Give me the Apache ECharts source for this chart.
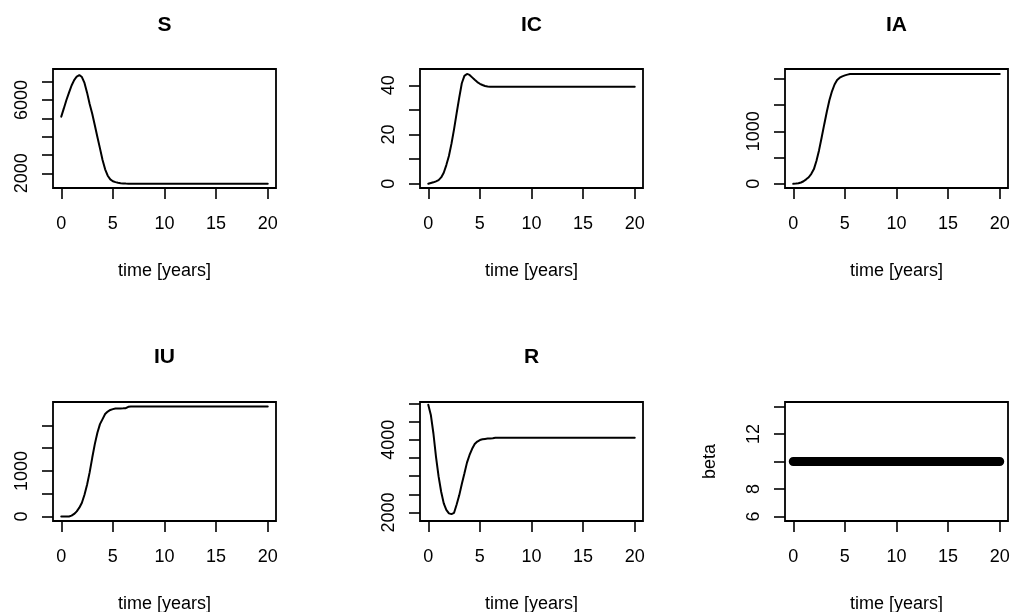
<!DOCTYPE html>
<html>
<head>
<meta charset="utf-8">
<script src="https://cdn.jsdelivr.net/npm/echarts@6/dist/echarts.min.js"></script>
<style>
    html, body { margin: 0; padding: 0; background: #fff; }
    #chart { width: 1010px; height: 612px; }
</style>
</head>
<body>
<div id="chart"></div>
<script>
    // time axis shared by every panel (flat tail runs out to 20)
    const years = [0, 0.25, 0.5, 0.75, 1, 1.25, 1.5, 1.75, 2, 2.25, 2.5, 2.75, 3, 3.25, 3.5,
        3.75, 4, 4.25, 4.5, 4.75, 5, 5.25, 5.5, 5.75, 6, 6.25, 6.5, 6.75, 7, 20];

    const S = [5090, 5540, 6000, 6400, 6790, 7080, 7280, 7360, 7250, 6930, 6400, 5780, 5250, 4620, 3980,
        3360, 2730, 2220, 1870, 1670, 1570, 1520, 1490, 1465, 1450, 1440, 1435, 1432, 1430, 1430];
    const IC = [0, 0.3, 0.6, 1.0, 1.5, 2.6, 4.5, 7.6, 11.3, 16.3, 22.2, 28.7, 35.0, 40.8, 43.8,
        44.6, 44.2, 43.2, 42.2, 41.3, 40.6, 40.1, 39.7, 39.5, 39.4, 39.4, 39.4, 39.4, 39.4, 39.4];
    const IA = [0, 4, 10, 25, 48, 85, 125, 190, 280, 440, 640, 880, 1130, 1370, 1590,
        1760, 1890, 1975, 2020, 2045, 2063, 2078, 2088, 2092, 2092, 2092, 2092, 2092, 2092, 2092];
    const IU = [0, 0, 0, 2, 20, 58, 115, 195, 305, 480, 700, 970, 1290, 1590, 1840,
        2030, 2140, 2250, 2305, 2340, 2358, 2372, 2374, 2375, 2376, 2378, 2410, 2418, 2418, 2418];
    const R = [4960, 4680, 4170, 3530, 2990, 2570, 2250, 2070, 1975, 1955, 1990, 2220, 2470, 2780, 3070,
        3370, 3580, 3750, 3880, 3950, 3990, 4010, 4022, 4030, 4036, 4040, 4054, 4054, 4054, 4054];
    const beta = [10, 10, 10, 10, 10, 10, 10, 10, 10, 10, 10, 10, 10, 10, 10,
        10, 10, 10, 10, 10, 10, 10, 10, 10, 10, 10, 10, 10, 10, 10];

    // ticks / shown labels (R drops the labels that would overlap)
    const xTicks = [0, 5, 10, 15, 20];
    const sTicks = [2000, 3000, 4000, 5000, 6000, 7000];
    const sLabels = [2000, 6000];
    const icTicks = [0, 10, 20, 30, 40];
    const icLabels = [0, 20, 40];
    const iaTicks = [0, 500, 1000, 1500, 2000];
    const iaLabels = [0, 1000];
    const iuTicks = [0, 500, 1000, 1500, 2000];
    const iuLabels = [0, 1000];
    const rTicks = [2000, 2500, 3000, 3500, 4000, 4500, 5000];
    const rLabels = [2000, 4000];
    const betaTicks = [6, 8, 10, 12, 14];
    const betaLabels = [6, 8, 12];

    const font = '"Liberation Sans", Arial, sans-serif';
    const W = 223, H = 119;

    const panels = [
        { title: 'S', values: S, ticks: sTicks, labels: sLabels, min: 1200, max: 7690, left: 53, top: 69 },
        { title: 'IC', values: IC, ticks: icTicks, labels: icLabels, min: -1.7, max: 46.6, left: 420, top: 69 },
        { title: 'IA', values: IA, ticks: iaTicks, labels: iaLabels, min: -80, max: 2185, left: 785, top: 69 },
        { title: 'IU', values: IU, ticks: iuTicks, labels: iuLabels, min: -97, max: 2515, left: 53, top: 402 },
        { title: 'R', values: R, ticks: rTicks, labels: rLabels, min: 1765, max: 5036, left: 420, top: 402 },
        { title: '', values: beta, ticks: betaTicks, labels: betaLabels, min: 5.68, max: 14.32, left: 785, top: 402, yName: 'beta', thick: true }
    ];

    const textStyle = { color: '#000', fontSize: 18, fontFamily: font };
    const tickStyle = { color: '#000', width: 1.6 };
    const plain = v => String(v);   // no thousands separator

    let option = {
        animation: false,
        backgroundColor: '#fff',
        grid: panels.map(p => ({
            left: p.left, top: p.top, width: W, height: H,
            show: true, borderColor: '#000', borderWidth: 1.8,
            backgroundColor: 'transparent',
            outerBoundsMode: 'none'
        })),
        xAxis: panels.map((p, i) => ({
            type: 'value', gridIndex: i, min: -0.8, max: 20.8,
            name: 'time [years]', nameLocation: 'middle', nameGap: 74,
            nameTextStyle: textStyle,
            axisLine: { show: false, onZero: false },
            axisTick: { show: true, length: 11, customValues: xTicks, lineStyle: tickStyle },
            axisLabel: Object.assign({ customValues: xTicks, margin: 27, formatter: plain }, textStyle),
            splitLine: { show: false }
        })),
        yAxis: panels.map((p, i) => ({
            type: 'value', gridIndex: i, min: p.min, max: p.max,
            name: p.yName || '', nameLocation: 'middle', nameRotate: 90, nameGap: 66,
            nameTextStyle: textStyle,
            axisLine: { show: false, onZero: false },
            axisTick: { show: true, length: 11, customValues: p.ticks, lineStyle: tickStyle },
            axisLabel: Object.assign({ customValues: p.labels, rotate: 90, margin: 22, formatter: plain }, textStyle),
            splitLine: { show: false }
        })),
        series: panels.map((p, i) => ({
            type: 'line', xAxisIndex: i, yAxisIndex: i,
            data: years.map((t, k) => [t, p.values[k]]),
            showSymbol: false,
            silent: true,
            lineStyle: { color: '#000', width: p.thick ? 9 : 2, cap: 'round' }
        })),
        graphic: panels.filter(p => p.title).map(p => ({
            type: 'text',
            x: p.left + W / 2,
            y: p.top === 69 ? 25 : 357,
            style: {
                text: p.title, fill: '#000',
                fontSize: 21, fontWeight: 'bold', fontFamily: font,
                align: 'center', verticalAlign: 'middle'
            }
        }))
    };

    let chart = echarts.init(document.getElementById('chart'));
    chart.setOption(option);
</script>
</body>
</html>
